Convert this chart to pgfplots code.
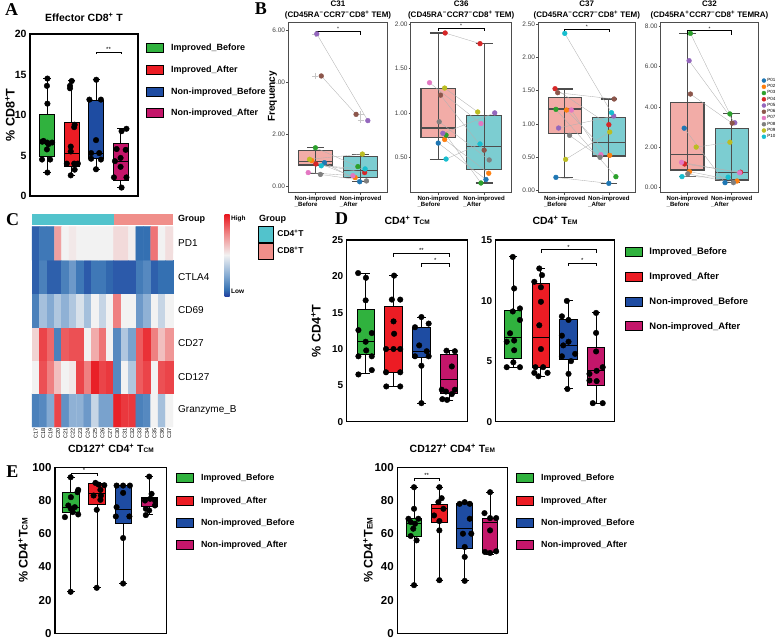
\documentclass[border=0pt]{standalone}
\usepackage{fontspec}
\setmainfont{Liberation Sans}
\newfontfamily\lettfont{Liberation Serif}
\usepackage{pgfplots}
\pgfplotsset{compat=1.18}
\usepgfplotslibrary{statistics}
\usepackage{pgfplotstable}

\newcommand{\fs}[1]{\fontsize{#1}{#1}\selectfont}

\definecolor{gImpB}{RGB}{48,178,62}
\definecolor{gImpA}{RGB}{236,28,36}
\definecolor{gNonB}{RGB}{30,76,162}
\definecolor{gNonA}{RGB}{196,22,106}
\definecolor{boxPink}{HTML}{F2ACA7}
\definecolor{boxCyan}{HTML}{7CCDD1}
\definecolor{frameGrey}{HTML}{4D4D4D}
\definecolor{grpCyan}{HTML}{52C3CC}
\definecolor{grpPink}{HTML}{F08F8A}
\definecolor{c01}{HTML}{1F77B4}
\definecolor{c02}{HTML}{FF7F0E}
\definecolor{c03}{HTML}{2CA02C}
\definecolor{c04}{HTML}{D62728}
\definecolor{c05}{HTML}{9467BD}
\definecolor{c06}{HTML}{8C564B}
\definecolor{c07}{HTML}{E377C2}
\definecolor{c08}{HTML}{7F7F7F}
\definecolor{c09}{HTML}{BCBD22}
\definecolor{c10}{HTML}{17BECF}

\pgfplotsset{
  colormap={hm}{rgb255(0pt)=(35,65,160); rgb255(1.5pt)=(52,112,178); rgb255(5pt)=(132,170,210); rgb255(10pt)=(242,242,242); rgb255(15pt)=(240,140,140); rgb255(20pt)=(232,20,28)},
  gp/.style={scale only axis, clip=false, axis line style={black, line width=1.2pt},
    xtick=\empty, ytick pos=left, major tick length=0pt, ymin=0,
    yticklabel style={font=\bfseries\fs{10.5}},
    /pgf/number format/assume math mode=true,
    title style={font=\bfseries\fs{10.5}, anchor=base, yshift=0pt, inner sep=0pt},
    ylabel style={font=\bfseries\fs{12.5}, anchor=center},
    legend style={draw=none, fill=none, inner sep=0pt, anchor=north west,
      font=\bfseries\fs{9}, nodes={inner sep=1pt},
      /tikz/every odd column/.append style={column sep=6pt}},
    legend cell align=left,
    legend image code/.code={\draw[##1] (0pt,-4.5pt) rectangle (17pt,4.5pt);}},
  bp/.style={scale only axis, clip=false, axis line style={frameGrey, line width=1.2pt},
    xmin=0.4, xmax=2.6, xtick={1,2},
    xticklabels={{Non-improved\\\_Before},{Non-improved\\\_After}},
    xticklabel style={align=left, font=\bfseries\fs{6.1}, inner sep=1.5pt},
    xtick pos=bottom, ytick pos=left, tick align=outside, major tick length=2pt,
    tick style={frameGrey, line width=0.6pt},
    yticklabel style={font=\fs{6.5}, text=black!75, inner sep=1pt,
      /pgf/number format/fixed, /pgf/number format/fixed zerofill,
      /pgf/number format/precision=2},
    /pgf/number format/assume math mode=true,
    title style={font=\bfseries\fontsize{8}{10.5}\selectfont, align=center,
      at={(0.5,0.986)}, anchor=south, yshift=0pt, inner sep=0pt}},
  pcls/.style={scatter, only marks, mark=*, mark size=2.4pt, point meta=explicit symbolic,
    scatter/classes={P01={draw=c01,fill=c01}, P02={draw=c02,fill=c02},
      P03={draw=c03,fill=c03}, P04={draw=c04,fill=c04}, P05={draw=c05,fill=c05},
      P06={draw=c06,fill=c06}, P07={draw=c07,fill=c07}, P08={draw=c08,fill=c08},
      P09={draw=c09,fill=c09}, P10={draw=c10,fill=c10}}}
}

% box of the group panels: position, fill, lower whisker, q1, median, q3, upper whisker
\newcommand{\gbox}[7]{\addplot[draw=black, line width=1pt, fill=#2, boxplot/draw direction=y,
  boxplot prepared={draw position=#1, lower whisker=#3, lower quartile=#4, median=#5,
  upper quartile=#6, upper whisker=#7, box extend=0.62, whisker extend=0.3}] coordinates {};}
\newcommand{\gdots}[1]{\addplot[only marks, mark=*, mark size=2.8pt, black] coordinates {#1};}
% ggplot style box with the error bar drawn through it
\newcommand{\bbox}[7]{\addplot[draw=frameGrey, line width=1.1pt, fill=#2, boxplot/draw direction=y,
  boxplot prepared={draw position=#1, lower whisker=#3, lower quartile=#4, median=#5,
  upper quartile=#6, upper whisker=#7, box extend=0.75, whisker extend=0.37}] coordinates {};
  \addplot[frameGrey, line width=1.1pt] coordinates {(#1,#3) (#1,#7)};}
\newcommand{\sig}[6]{\addplot[black, line width=0.6pt] coordinates {(#1,#4) (#1,#3) (#2,#3) (#2,#4)};
  \node[font=\fs{#6}, anchor=south, inner sep=0.4pt] at (axis cs:{0.5*(#1+#2)},#3) {#5};}
\newcommand{\pats}[1]{%
  \addplot[gray!60, line width=0.35pt,
    quiver={u=\thisrow{xa}-\thisrow{xb}, v=\thisrow{ya}-\thisrow{yb}}] table[x=xb, y=yb] {#1};
  \addplot[pcls] table[x=xb, y=yb, meta=pid] {#1};
  \addplot[pcls] table[x=xa, y=ya, meta=pid] {#1};}
\newcommand{\fourleg}{%
  \addlegendimage{fill=gImpB, draw=black, line width=0.9pt}
  \addlegendimage{fill=gImpA, draw=black, line width=0.9pt}
  \addlegendimage{fill=gNonB, draw=black, line width=0.9pt}
  \addlegendimage{fill=gNonA, draw=black, line width=0.9pt}}
\newcommand{\fourlegtext}{\legend{Improved\_Before,Improved\_After,Non-improved\_Before,Non-improved\_After}}

% patient frequencies, before (xb,yb) and after (xa,ya)
\pgfplotstableread{
pid xb yb xa ya
P01 1.20 0.92 1.98 0.19
P02 0.92 1.00 1.88 0.35
P03 1.00 1.49 1.94 0.77
P04 1.01 0.87 2.09 0.54
P05 1.03 5.85 2.16 2.53
P06 1.13 4.24 1.90 2.77
P07 0.84 0.54 1.83 0.42
P08 1.11 0.47 2.13 0.22
P09 0.87 1.05 2.04 1.25
P10 1.13 0.80 2.10 0.68
}\tabCa
\pgfplotstableread{
pid xb yb xa ya
P01 1.00 0.66 2.04 0.25
P02 1.14 0.70 2.10 0.32
P03 1.17 0.75 1.93 0.21
P04 1.15 1.90 1.91 1.78
P05 1.10 0.77 2.23 1.00
P06 1.05 1.20 2.00 0.58
P07 0.81 1.34 1.93 0.88
P08 1.02 0.90 2.11 0.47
P09 1.14 1.28 1.86 1.01
P10 1.17 0.48 1.91 0.65
}\tabCb
\pgfplotstableread{
pid xb yb xa ya
P01 0.80 0.20 2.00 0.11
P02 1.04 1.21 2.02 0.53
P03 0.80 1.22 2.16 0.21
P04 0.78 1.53 2.00 0.99
P05 0.86 0.94 2.11 1.12
P06 0.84 1.47 2.12 1.375
P07 1.15 1.21 1.82 0.54
P08 1.11 0.83 1.80 0.50
P09 1.02 0.47 2.02 0.88
P10 1.00 2.36 2.06 1.17
}\tabCc
\pgfplotstableread{
pid xb yb xa ya
P01 0.93 2.94 1.85 0.23
P02 1.05 0.78 2.12 0.31
P03 1.07 7.66 1.96 3.65
P04 0.94 1.16 2.20 0.75
P05 1.04 6.30 2.07 3.21
P06 1.07 4.64 2.01 3.19
P07 0.87 1.24 2.18 0.72
P08 1.01 0.67 2.04 0.23
P09 1.20 2.00 1.96 2.24
P10 0.88 0.53 1.92 0.50
}\tabCd

\begin{document}
\begin{tikzpicture}
\path[use as bounding box] (0,0) rectangle (777pt,-639pt);

% ---------------- A ----------------
\begin{axis}[gp, at={(30pt,-34pt)}, anchor=north west, width=108pt, height=162pt,
  xmin=0.3, xmax=4.7, ymax=20, ytick={0,5,10,15,20},
  title={Effector CD8\textsuperscript{+} T}, title style={at={(0.5,1.043)}},
  ylabel={\% CD8\textsuperscript{+}T}, ylabel style={at={(axis description cs:-0.185,0.5)}},
  legend style={at={(1.075,0.945)}, row sep=11.7pt}]
\fourleg
\gbox{1}{gImpB}{2.9}{4.9}{6.7}{10.1}{14.5}
\gbox{2}{gImpA}{2.5}{3.7}{5.2}{9.1}{14.2}
\gbox{3}{gNonB}{3.3}{4.6}{5.3}{11.8}{14.35}
\gbox{4}{gNonA}{1.0}{1.9}{4.2}{6.46}{8.3}
\gdots{(1.01,14.5) (0.99,13.6) (1.01,11.4) (0.8,6.7) (1.0,6.6) (1.2,6.6) (0.85,6.8) (1.05,6.4) (0.99,5.75) (0.79,4.5) (1.12,4.5) (1.01,2.9)}
\gdots{(2.0,14.2) (1.93,13.6) (1.93,13.3) (2.12,8.8) (2.1,8.5) (1.96,6.1) (1.96,5.5) (1.8,4.0) (2.1,4.0) (2.25,4.0) (2.12,3.25) (1.96,2.55)}
\gdots{(3.0,14.35) (2.72,11.9) (3.19,11.9) (2.99,6.9) (2.79,5.3) (3.12,5.3) (2.79,4.6) (3.19,4.5) (2.99,3.3)}
\gdots{(4.23,8.3) (4.03,8.0) (3.83,5.8) (4.2,5.7) (3.99,4.7) (3.76,4.3) (3.99,3.6) (3.72,2.3) (4.23,2.3) (4.03,1.04)}
\sig{3}{4}{17.8}{17.5}{**}{6}
\fourlegtext
\end{axis}

% ---------------- B ----------------
\begin{axis}[bp, at={(288.3pt,-22.7pt)}, anchor=north west, width=99.4pt, height=170pt,
  ymin=-0.23, ymax=6.28, ytick={0,2,4,6},
  title={C31\\(CD45RA\textsuperscript{−}CCR7\textsuperscript{−}CD8\textsuperscript{+} TEM)},
  ylabel={Frequency}, ylabel style={font=\bfseries\fs{10}, anchor=center, at={(axis description cs:-0.16,0.567)}}]
\bbox{1}{boxPink}{0.51}{0.83}{0.96}{1.38}{1.49}
\bbox{2}{boxCyan}{0.19}{0.36}{0.61}{1.15}{1.25}
\addplot[only marks, mark=+, mark size=3pt, gray!45, line width=0.6pt] coordinates {(1,5.85) (1,4.24) (2,2.77) (2,2.55)};
\pats{\tabCa}
\sig{1}{2}{5.94}{5.8}{*}{5}
\end{axis}

\begin{axis}[bp, at={(410.7pt,-22.7pt)}, anchor=north west, width=101pt, height=170pt,
  ymin=0.101, ymax=2.016, ytick={0.5,1,1.5,2},
  title={C36\\(CD45RA\textsuperscript{−}CCR7\textsuperscript{−}CD8\textsuperscript{+} TEM)}]
\bbox{1}{boxPink}{0.48}{0.72}{0.83}{1.27}{1.90}
\bbox{2}{boxCyan}{0.21}{0.365}{0.62}{0.97}{1.78}
\pats{\tabCb}
\sig{1}{2}{1.95}{1.92}{*}{5}
\end{axis}

\begin{axis}[bp, at={(538.3pt,-22.7pt)}, anchor=north west, width=97pt, height=170pt,
  ymin=-0.03, ymax=2.52, ytick={0,0.5,1,1.5,2,2.5},
  title={C37\\(CD45RA\textsuperscript{−}CCR7\textsuperscript{−}CD8\textsuperscript{+} TEM)}]
\bbox{1}{boxPink}{0.20}{0.86}{1.225}{1.40}{1.525}
\bbox{2}{boxCyan}{0.11}{0.52}{0.72}{1.10}{1.375}
\pats{\tabCc}
\sig{1}{2}{2.42}{2.38}{*}{5}
\end{axis}

\begin{axis}[bp, at={(660.7pt,-22.7pt)}, anchor=north west, width=97.6pt, height=170pt,
  ymin=-0.27, ymax=8.19, ytick={0,2,4,6,8},
  title={C32\\(CD45RA\textsuperscript{+}CCR7\textsuperscript{−}CD8\textsuperscript{+} TEMRA)},
  legend style={at={(1.035,0.678)}, anchor=north west, draw=none, fill=none, inner sep=0pt,
    font=\fs{4.5}, row sep=0.4pt, nodes={inner sep=0.6pt},
    /tikz/every odd column/.append style={column sep=0.8pt}},
  legend cell align=left,
  legend image code/.code={\draw[#1] plot coordinates {(2.2pt,0pt)};}]
\addlegendimage{only marks, mark=*, mark size=2pt, draw=c01, fill=c01}
\addlegendimage{only marks, mark=*, mark size=2pt, draw=c02, fill=c02}
\addlegendimage{only marks, mark=*, mark size=2pt, draw=c03, fill=c03}
\addlegendimage{only marks, mark=*, mark size=2pt, draw=c04, fill=c04}
\addlegendimage{only marks, mark=*, mark size=2pt, draw=c05, fill=c05}
\addlegendimage{only marks, mark=*, mark size=2pt, draw=c06, fill=c06}
\addlegendimage{only marks, mark=*, mark size=2pt, draw=c07, fill=c07}
\addlegendimage{only marks, mark=*, mark size=2pt, draw=c08, fill=c08}
\addlegendimage{only marks, mark=*, mark size=2pt, draw=c09, fill=c09}
\addlegendimage{only marks, mark=*, mark size=2pt, draw=c10, fill=c10}
\bbox{1}{boxPink}{0.53}{0.86}{1.61}{4.21}{7.66}
\bbox{2}{boxCyan}{0.25}{0.36}{0.73}{2.93}{3.65}
\pats{\tabCd}
\sig{1}{2}{7.79}{7.6}{*}{5}
\legend{P01,P02,P03,P04,P05,P06,P07,P08,P09,P10}
\end{axis}

% ---------------- C ----------------
\begin{axis}[at={(32pt,-214pt)}, anchor=north west, scale only axis, width=141pt, height=213pt,
  enlargelimits=false, xmin=-0.5, xmax=18.5, ymin=-0.5, ymax=5.88,
  axis line style={draw=none}, major tick length=0pt, clip=false,
  xtick={0,...,18},
  xticklabels={C17,C18,C19,C20,C21,C22,C23,C24,C25,C26,C27,C30,C31,C32,C33,C34,C35,C36,C37},
  xticklabel style={rotate=90, anchor=east, font=\fs{5.5}, inner sep=1pt},
  ytick={0,...,5}, yticklabels={Granzyme\_B,CD127,CD27,CD69,CTLA4,PD1},
  yticklabel pos=right, yticklabel style={anchor=west, font=\fs{10}, inner sep=0pt, xshift=5pt},
  extra y ticks={5.715}, extra y tick labels={Group},
  extra y tick style={yticklabel style={font=\bfseries\fs{9}}},
  colormap name=hm, point meta min=-1, point meta max=1,
  colorbar, colorbar style={at={(parent axis.north east)}, anchor=north west, xshift=43pt,
    scale only axis, width=5pt, height=82pt, ytick=\empty, xtick=\empty,
    axis line style={draw=none}},
  legend style={at={(1.6,0.944)}, anchor=north west, draw=none, fill=none, inner sep=0pt,
    font=\bfseries\fs{8.5}, row sep=0pt, nodes={inner sep=0pt},
    /tikz/every odd column/.append style={column sep=4.5pt}},
  legend cell align=left,
  legend image code/.code={\fill[#1] (0pt,-8pt) rectangle (14.7pt,8pt);}]
\addlegendimage{fill=grpCyan}
\addlegendimage{fill=grpPink}
\addplot[matrix plot*, mesh/cols=19, point meta=explicit] table[row sep=\\, meta=c] {
x y c\\
0 0 -0.75\\ 1 0 -0.7\\ 2 0 -0.5\\ 3 0 0.8\\ 4 0 -0.65\\ 5 0 -0.45\\ 6 0 -0.45\\ 7 0 -0.6\\ 8 0 -0.2\\ 9 0 -0.55\\ 10 0 -0.55\\ 11 0 0.95\\ 12 0 0.85\\ 13 0 0.85\\ 14 0 -0.75\\ 15 0 -0.7\\ 16 0 0.0\\ 17 0 -0.35\\ 18 0 0.0\\
0 1 0.0\\ 1 1 0.75\\ 2 1 0.55\\ 3 1 0.25\\ 4 1 0.0\\ 5 1 0.05\\ 6 1 0.8\\ 7 1 0.55\\ 8 1 0.95\\ 9 1 0.8\\ 10 1 0.85\\ 11 1 -0.7\\ 12 1 0.0\\ 13 1 -0.3\\ 14 1 0.7\\ 15 1 0.8\\ 16 1 0.0\\ 17 1 0.75\\ 18 1 0.8\\
0 2 0.15\\ 1 2 0.8\\ 2 2 0.65\\ 3 2 -0.75\\ 4 2 0.7\\ 5 2 0.75\\ 6 2 0.75\\ 7 2 0.0\\ 8 2 0.35\\ 9 2 0.6\\ 10 2 0.0\\ 11 2 -0.7\\ 12 2 -0.3\\ 13 2 -0.55\\ 14 2 0.7\\ 15 2 0.88\\ 16 2 0.55\\ 17 2 0.25\\ 18 2 0.45\\
0 3 -0.75\\ 1 3 -0.35\\ 2 3 -0.5\\ 3 3 -0.3\\ 4 3 -0.45\\ 5 3 -0.3\\ 6 3 -0.12\\ 7 3 -0.35\\ 8 3 0.0\\ 9 3 -0.2\\ 10 3 0.0\\ 11 3 0.55\\ 12 3 0.0\\ 13 3 0.0\\ 14 3 -0.6\\ 15 3 -0.45\\ 16 3 0.0\\ 17 3 -0.2\\ 18 3 0.0\\
0 4 -0.9\\ 1 4 -0.75\\ 2 4 -0.9\\ 3 4 -0.9\\ 4 4 -0.75\\ 5 4 -0.6\\ 6 4 -0.8\\ 7 4 -0.92\\ 8 4 -0.8\\ 9 4 -0.8\\ 10 4 -0.88\\ 11 4 -0.92\\ 12 4 -0.92\\ 13 4 -0.92\\ 14 4 -0.78\\ 15 4 -0.7\\ 16 4 -0.9\\ 17 4 -0.85\\ 18 4 -0.85\\
0 5 -0.9\\ 1 5 -0.8\\ 2 5 -0.8\\ 3 5 0.4\\ 4 5 0.0\\ 5 5 0.05\\ 6 5 0.0\\ 7 5 0.0\\ 8 5 0.0\\ 9 5 0.0\\ 10 5 0.0\\ 11 5 0.12\\ 12 5 0.12\\ 13 5 0.02\\ 14 5 -0.85\\ 15 5 -0.85\\ 16 5 0.6\\ 17 5 0.0\\ 18 5 0.1\\
};
\addplot[fill=grpCyan, draw=none] coordinates {(-0.5,5.55) (10.5,5.55) (10.5,5.88) (-0.5,5.88)} -- cycle;
\addplot[fill=grpPink, draw=none] coordinates {(10.5,5.55) (18.5,5.55) (18.5,5.88) (10.5,5.88)} -- cycle;
\legend{CD4\textsuperscript{+}T,CD8\textsuperscript{+}T}
\end{axis}
\node[font=\bfseries\fs{6.5}, anchor=west, inner sep=0pt] at (231pt,-218.5pt) {High};
\node[font=\bfseries\fs{6.5}, anchor=west, inner sep=0pt] at (231pt,-291.5pt) {Low};
\node[font=\bfseries\fs{9}, anchor=west, inner sep=0pt] at (259pt,-219.5pt) {Group};

% ---------------- D ----------------
\begin{axis}[gp, at={(346.7pt,-240pt)}, anchor=north west, width=121pt, height=181.7pt,
  xmin=0.32, xmax=4.66, ymax=25, ytick={0,5,10,15,20,25},
  yticklabel style={font=\bfseries\fs{10}},
  title={CD4\textsuperscript{+} T{\fs{6.5}CM}}, title style={at={(0.5,1.051)}},
  ylabel={\% CD4\textsuperscript{+}T}, ylabel style={at={(axis description cs:-0.254,0.5)}}]
\gbox{1}{gImpB}{6.6}{9.2}{11.1}{15.5}{20.45}
\gbox{2}{gImpA}{4.9}{6.8}{10.0}{15.8}{20.1}
\gbox{3}{gNonB}{2.55}{8.8}{9.7}{13.0}{14.4}
\gbox{4}{gNonA}{2.9}{3.9}{5.85}{9.2}{9.75}
\gdots{(0.73,20.45) (1.01,19.8) (1.0,16.7) (0.74,12.6) (1.22,12.2) (1.0,11.0) (1.02,9.8) (0.74,9.0) (1.22,9.0) (1.22,7.1) (0.74,6.5)}
\gdots{(2.02,20.1) (1.94,16.8) (2.24,16.8) (2.0,13.8) (2.02,12.1) (1.73,10.0) (2.0,10.0) (2.24,10.0) (1.73,6.8) (2.24,6.8) (1.74,4.85) (2.24,4.85)}
\gdots{(3.0,14.4) (3.26,13.5) (2.77,13.0) (2.92,10.5) (3.19,9.7) (2.77,9.0) (3.26,9.0) (3.0,7.7) (3.0,2.55)}
\gdots{(3.9,9.77) (4.2,9.7) (4.09,7.6) (3.73,4.4) (3.88,4.15) (4.2,4.4) (4.09,3.8) (3.92,3.0) (3.75,3.1)}
\sig{2}{4}{23.2}{22.7}{**}{6}
\sig{3}{4}{21.8}{21.3}{*}{6}
\end{axis}

\begin{axis}[gp, at={(495.7pt,-240pt)}, anchor=north west, width=118.6pt, height=181.7pt,
  xmin=0.36, xmax=4.66, ymax=15, ytick={0,5,10,15},
  yticklabel style={font=\bfseries\fs{10}},
  title={CD4\textsuperscript{+} T{\fs{6.5}EM}}, title style={at={(0.5,1.051)}},
  legend style={at={(1.085,0.962)}, row sep=14.4pt, font=\bfseries\fs{9.4}}]
\fourleg
\gbox{1}{gImpB}{4.5}{5.25}{6.93}{9.2}{13.6}
\gbox{2}{gImpA}{3.75}{4.45}{6.93}{11.4}{12.65}
\gbox{3}{gNonB}{2.7}{5.1}{6.3}{8.4}{9.97}
\gbox{4}{gNonA}{1.53}{3.0}{4.2}{6.15}{8.98}
\gdots{(0.98,13.6) (1.03,11.0) (1.24,9.35) (0.98,9.1) (1.24,8.4) (0.88,7.3) (1.03,6.7) (0.76,6.6) (1.03,5.9) (1.0,4.9) (0.76,4.5) (1.24,4.5)}
\gdots{(1.94,12.65) (2.04,12.1) (1.76,11.55) (2.0,11.1) (2.0,9.9) (1.94,7.96) (2.0,6.0) (1.8,4.5) (2.08,4.5) (1.76,4.03) (2.24,4.03) (1.91,3.75)}
\gdots{(2.94,9.97) (2.76,8.7) (3.0,8.4) (2.76,7.1) (3.0,6.6) (2.81,6.3) (2.76,5.4) (3.24,5.6) (3.09,5.0) (3.0,3.95) (2.96,2.7)}
\gdots{(4.0,8.98) (4.0,7.33) (4.0,5.8) (4.24,4.5) (4.02,4.2) (3.76,3.95) (3.76,3.4) (4.02,3.35) (3.88,1.53) (4.24,1.53)}
\sig{2}{4}{14.2}{13.95}{*}{6}
\sig{3}{4}{13.1}{12.85}{*}{6}
\fourlegtext
\end{axis}

% ---------------- E ----------------
\begin{axis}[gp, at={(55pt,-467.3pt)}, anchor=north west, width=111.7pt, height=166pt,
  xmin=0.39, xmax=4.67, ymax=100, ytick={0,20,40,60,80,100},
  yticklabel style={font=\bfseries\fs{11.5}},
  title={CD127\textsuperscript{+} CD4\textsuperscript{+} T{\fs{6.5}CM}}, title style={at={(0.5,1.056)}},
  ylabel={\% CD4\textsuperscript{+}T{\fs{8}CM}}, ylabel style={at={(axis description cs:-0.286,0.5)}},
  legend style={at={(1.083,0.965)}, row sep=12.4pt, font=\bfseries\fs{8.9}}]
\fourleg
\gbox{1}{gImpB}{25}{73}{76}{85}{94}
\gbox{2}{gImpA}{27.4}{77.4}{84.5}{90}{90.6}
\gbox{3}{gNonB}{30}{66}{74.8}{89}{89}
\gbox{4}{gNonA}{71.6}{76.6}{81}{82}{94.4}
\gdots{(0.99,94) (1.28,86.4) (1.25,85) (1.0,82) (0.9,77) (1.15,76) (1.0,75) (1.07,73) (1.28,71.6) (0.77,70) (0.99,25)}
\gdots{(1.94,90.6) (2.06,89.6) (2.28,89.2) (2.13,86.4) (1.87,83) (2.15,83) (2.13,80.4) (1.99,74.4) (1.99,27.4)}
\gdots{(2.75,89) (3.0,89) (3.26,89) (3.0,84.6) (2.75,76) (2.72,70.4) (3.24,70.4) (3.0,57.4) (3.0,30)}
\gdots{(4.0,94.4) (4.09,84) (3.84,80) (4.22,80) (3.87,75) (4.0,74) (3.87,71.2) (4.22,77) (4.04,81)}
\sig{1}{2}{96.4}{95}{*}{6}
\fourlegtext
\end{axis}

\begin{axis}[gp, at={(397.3pt,-467.3pt)}, anchor=north west, width=110pt, height=166pt,
  xmin=0.34, xmax=4.68, ymax=100, ytick={0,20,40,60,80,100},
  yticklabel style={font=\bfseries\fs{11.5}},
  title={CD127\textsuperscript{+} CD4\textsuperscript{+} T{\fs{6.5}EM}}, title style={at={(0.5,1.056)}},
  ylabel={\% CD4\textsuperscript{+}T{\fs{8}EM}}, ylabel style={at={(axis description cs:-0.266,0.5)}},
  legend style={at={(1.079,0.965)}, row sep=12.4pt, font=\bfseries\fs{8.9}}]
\fourleg
\gbox{1}{gImpB}{29}{58.6}{66}{69.4}{88}
\gbox{2}{gImpA}{32}{67}{75}{77.6}{88}
\gbox{3}{gNonB}{31.6}{51}{63.4}{78}{79}
\gbox{4}{gNonA}{47.6}{48.4}{67}{69.4}{85}
\gdots{(1.0,88) (1.0,75) (0.78,69) (1.17,69) (0.87,67) (1.04,66) (0.97,63) (0.87,58.6) (1.1,56) (1.0,29)}
\gdots{(2.0,88) (2.09,81.4) (1.96,79) (2.16,75) (1.79,71) (2.0,67.6) (2.0,62) (2.0,32)}
\gdots{(2.8,78) (3.2,78) (3.0,79) (3.2,69) (2.93,60) (3.26,60) (3.0,52) (3.0,46) (3.0,31.6)}
\gdots{(4.0,85) (3.78,72.4) (4.0,69.4) (4.24,69.4) (4.0,62) (3.8,49) (4.0,48.4) (4.24,49.4)}
\sig{1}{2}{93.4}{92}{**}{6}
\fourlegtext
\end{axis}

% panel letters
\node[font=\lettfont\bfseries\fs{18}] at (11.5pt,-10pt) {A};
\node[font=\lettfont\bfseries\fs{18}] at (261pt,-8.5pt) {B};
\node[font=\lettfont\bfseries\fs{18}] at (12.5pt,-220pt) {C};
\node[font=\lettfont\bfseries\fs{18}] at (341.7pt,-218.5pt) {D};
\node[font=\lettfont\bfseries\fs{18}] at (12.5pt,-471.5pt) {E};
\end{tikzpicture}
\end{document}
